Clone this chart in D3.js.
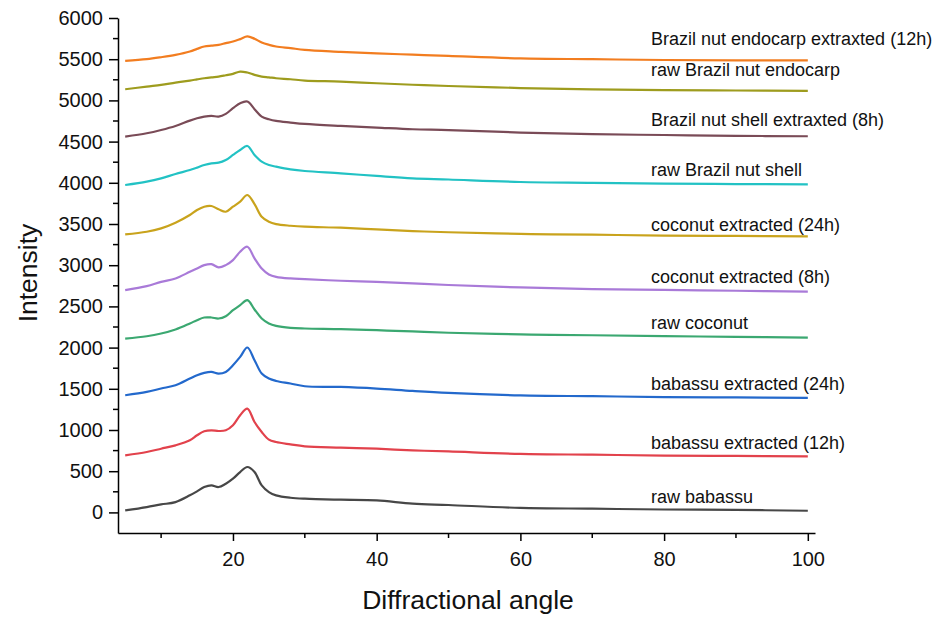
<!DOCTYPE html>
<html>
<head>
<meta charset="utf-8">
<script src="https://cdn.jsdelivr.net/npm/d3@7"></script>
<style>
  body { margin: 0; background: #fff; }
  svg { font-family: "Liberation Sans", Arial, sans-serif; }
  .axis path, .axis line { stroke: #000; stroke-width: 1.5px; }
  .axis text { font-size: 20px; fill: #111; }
</style>
</head>
<body>
<svg id="chart"></svg>
<script>
// shared 2-theta positions (degrees)
var angles = [5, 8, 10, 12, 14, 15, 16, 17, 18, 19, 20, 21, 22, 23, 24, 25, 26, 28, 30, 35, 40, 45, 50, 60, 70, 80, 90, 100];

// series names, bottom to top
var names = [
  "raw babassu",
  "babassu extracted (12h)",
  "babassu extracted (24h)",
  "raw coconut",
  "coconut extracted (8h)",
  "coconut extracted (24h)",
  "raw Brazil nut shell",
  "Brazil nut shell extraxted (8h)",
  "raw Brazil nut endocarp",
  "Brazil nut endocarp extraxted (12h)"
];

var colors = ["#474747", "#e2424c", "#2369cc", "#3ba871", "#a97ad8",
              "#c9a31c", "#22c2c4", "#7a4b57", "#9e9c1e", "#f27d20"];

// intensities (already offset as plotted)
var rawBabassu = [24, 65, 97, 125, 207, 255, 308, 328, 308, 348, 409, 490, 551, 490, 328, 247, 207, 178, 166, 154, 146, 106, 90, 55, 45, 35, 30, 20];
var babassu12h = [692, 733, 773, 814, 875, 936, 984, 996, 988, 996, 1057, 1179, 1260, 1097, 976, 883, 854, 826, 802, 786, 773, 753, 740, 710, 700, 690, 685, 680];
var babassu24h = [1422, 1462, 1503, 1543, 1624, 1665, 1693, 1705, 1685, 1705, 1786, 1887, 2001, 1847, 1685, 1624, 1595, 1564, 1531, 1523, 1503, 1474, 1450, 1420, 1410, 1400, 1395, 1390];
var rawCoconut = [2110, 2138, 2171, 2220, 2293, 2333, 2365, 2365, 2353, 2381, 2454, 2515, 2576, 2463, 2353, 2293, 2264, 2240, 2232, 2224, 2211, 2196, 2180, 2160, 2150, 2140, 2130, 2120];
var coconut8h = [2697, 2746, 2798, 2839, 2920, 2960, 3001, 3013, 2973, 3001, 3062, 3163, 3224, 3083, 2960, 2888, 2859, 2839, 2831, 2811, 2798, 2779, 2760, 2730, 2710, 2700, 2690, 2680];
var coconut24h = [3374, 3406, 3447, 3516, 3609, 3670, 3710, 3718, 3678, 3649, 3710, 3771, 3852, 3742, 3588, 3527, 3499, 3479, 3467, 3455, 3435, 3414, 3400, 3380, 3370, 3360, 3355, 3350];
var rawShell = [3973, 4014, 4054, 4107, 4155, 4184, 4216, 4236, 4244, 4277, 4338, 4398, 4447, 4338, 4257, 4216, 4196, 4163, 4143, 4115, 4083, 4054, 4040, 4010, 4000, 3990, 3985, 3980];
var shell8h = [4560, 4601, 4641, 4690, 4755, 4783, 4803, 4812, 4803, 4836, 4905, 4966, 4986, 4893, 4803, 4771, 4751, 4731, 4714, 4690, 4670, 4650, 4640, 4610, 4590, 4580, 4570, 4565];
var rawEndocarp = [5135, 5168, 5188, 5216, 5241, 5255, 5269, 5280, 5289, 5305, 5322, 5350, 5338, 5310, 5289, 5280, 5269, 5257, 5241, 5228, 5208, 5190, 5175, 5150, 5135, 5125, 5120, 5115];
var endocarp12h = [5480, 5500, 5524, 5553, 5594, 5625, 5654, 5665, 5674, 5695, 5715, 5744, 5776, 5748, 5703, 5675, 5654, 5634, 5613, 5590, 5570, 5555, 5540, 5510, 5500, 5490, 5485, 5485];

var series = [rawBabassu, babassu12h, babassu24h, rawCoconut, coconut8h,
              coconut24h, rawShell, shell8h, rawEndocarp, endocarp12h];

// label baselines, in data units
var labelY = [120, 770, 1480, 2230, 2790, 3420, 4080, 4690, 5300, 5670];

var xTicks = [20, 40, 60, 80, 100];
var xMinor = [10, 30, 50, 70, 90];
var yTicks = d3.range(0, 6001, 500);
var yMinor = d3.range(250, 6000, 500);

var W = 941, H = 621;
var x = d3.scaleLinear().domain([4, 101]).range([118, 815]);
var y = d3.scaleLinear().domain([-250, 6000]).range([533, 18]);

var svg = d3.select("#chart").attr("width", W).attr("height", H);

// curves
var line = d3.line()
    .x(function(d, i) { return x(angles[i]); })
    .y(function(d) { return y(d); })
    .curve(d3.curveCatmullRom.alpha(0.5));

svg.selectAll("path.trace")
    .data(series)
  .enter().append("path")
    .attr("class", "trace")
    .attr("fill", "none")
    .attr("stroke", function(d, i) { return colors[i]; })
    .attr("stroke-width", 2.2)
    .attr("stroke-linejoin", "round")
    .attr("d", line);

// series labels
svg.selectAll("text.lbl")
    .data(names)
  .enter().append("text")
    .attr("class", "lbl")
    .attr("x", 651)
    .attr("y", function(d, i) { return y(labelY[i]); })
    .style("font-size", "18px")
    .style("fill", "#111")
    .text(function(d) { return d; });

// axes
var xAxis = svg.append("g")
    .attr("class", "axis")
    .attr("transform", "translate(0," + y(-250) + ")")
    .call(d3.axisBottom(x).tickValues(xTicks).tickSize(8).tickSizeOuter(0).tickPadding(11));
xAxis.selectAll(".minor")
    .data(xMinor)
  .enter().append("line")
    .attr("x1", function(d) { return x(d); })
    .attr("x2", function(d) { return x(d); })
    .attr("y1", 0)
    .attr("y2", 5);

var yAxis = svg.append("g")
    .attr("class", "axis")
    .attr("transform", "translate(" + x(4) + ",0)")
    .call(d3.axisLeft(y).tickValues(yTicks).tickFormat(d3.format("d"))
      .tickSize(9).tickSizeOuter(0).tickPadding(6));
yAxis.selectAll(".minor")
    .data(yMinor)
  .enter().append("line")
    .attr("y1", function(d) { return y(d); })
    .attr("y2", function(d) { return y(d); })
    .attr("x1", 0)
    .attr("x2", -5);

// axis titles
svg.append("text")
    .attr("x", 468)
    .attr("y", 609)
    .attr("text-anchor", "middle")
    .style("font-size", "26.5px")
    .style("fill", "#111")
    .text("Diffractional angle");

svg.append("text")
    .attr("transform", "translate(37,273) rotate(-90)")
    .attr("text-anchor", "middle")
    .style("font-size", "26.5px")
    .style("fill", "#111")
    .text("Intensity");
</script>
</body>
</html>
